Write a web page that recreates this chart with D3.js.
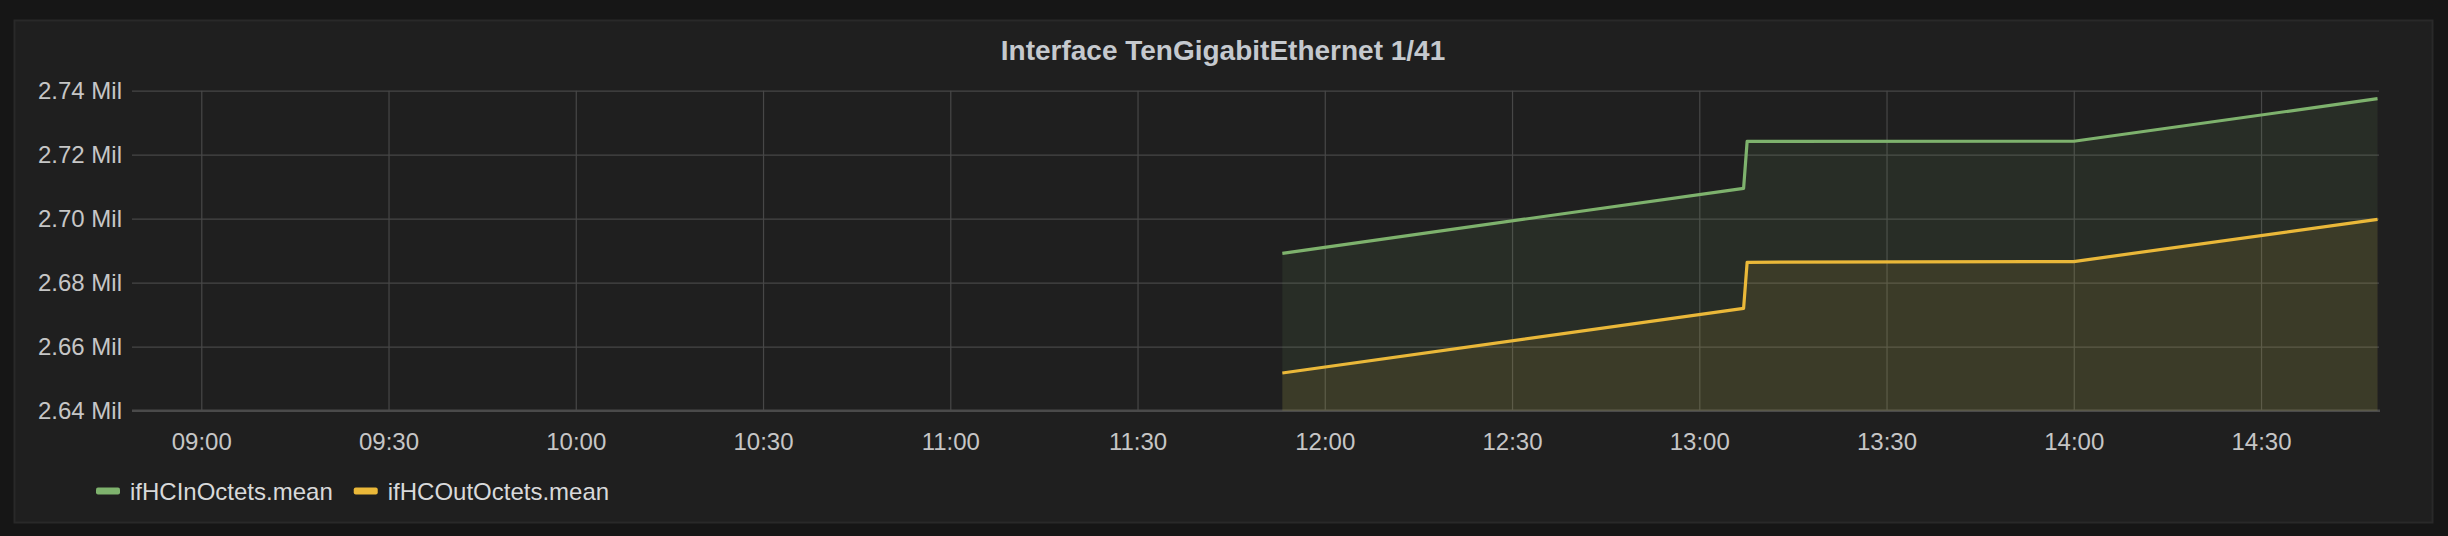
<!DOCTYPE html>
<html>
<head>
<meta charset="utf-8">
<script src="https://cdn.jsdelivr.net/npm/d3@7"></script>
<style>
  html, body { margin: 0; padding: 0; background: #161616; }
  svg { display: block; }
</style>
</head>
<body>
<svg id="chart" width="2448" height="536"></svg>
<script>
// ---- Data ----
const chartTitle = "Interface TenGigabitEthernet 1/41";
const seriesNames = ["ifHCInOctets.mean", "ifHCOutOctets.mean"];
const seriesColors = ["#7EB26D", "#EAB839"];
const sampleTimes = ["11:53:12", "13:07:06", "13:07:40", "14:00:00", "14:48:40"];
const inOctetsMean  = [2689190, 2709500, 2724190, 2724200, 2737500];
const outOctetsMean = [2651780, 2672000, 2686380, 2686600, 2699800];
const yTickValues = [2640000, 2660000, 2680000, 2700000, 2720000, 2740000];
const timeRange = ["08:48:54", "14:48:54"];
const xTickLabels = ["09:00","09:30","10:00","10:30","11:00","11:30","12:00","12:30","13:00","13:30","14:00","14:30"];

// ---- Helpers ----
const day = "2017-01-01T";
const parseT = s => new Date(day + s);

const svg = d3.select("#chart");
const W = 2448, H = 536;
const plot = { left: 132, right: 2379, top: 90.7, bottom: 410.7 };

// panel
svg.append("rect").attr("x", 0).attr("y", 0).attr("width", W).attr("height", H).attr("fill", "#161616");
svg.append("rect").attr("x", 14.5).attr("y", 20.5).attr("width", 2418).attr("height", 502)
  .attr("fill", "#1f1f1f").attr("stroke", "#292929").attr("stroke-width", 2);

// title
svg.append("text").attr("x", 1223).attr("y", 60)
  .attr("text-anchor", "middle")
  .attr("font-family", "'Liberation Sans', Arial, Helvetica, sans-serif")
  .attr("font-weight", "bold").attr("font-size", 28)
  .attr("fill", "#c5c9ce")
  .text(chartTitle);

// scales
const x = d3.scaleTime().domain(timeRange.map(parseT)).range([plot.left, plot.right]);
const y = d3.scaleLinear().domain([2640000, 2740000]).range([plot.bottom, plot.top]);

const font = "'Liberation Sans', Arial, Helvetica, sans-serif";

// grid - horizontal
const gy = svg.append("g").attr("class", "y-axis").attr("transform", `translate(${plot.left},0)`)
  .call(d3.axisLeft(y).tickValues(yTickValues)
    .tickSize(-(plot.right - plot.left)).tickPadding(10)
    .tickFormat(v => (v / 1e6).toFixed(2) + " Mil"));
gy.select(".domain").remove();
gy.selectAll(".tick line").attr("stroke", "#474747").attr("stroke-width", 1.2);
gy.selectAll(".tick text").attr("font-family", font).attr("font-size", 24)
  .attr("fill", "#c6c6c6").attr("x", -10).attr("dy", "0.33em");

// grid - vertical
const xTicks = xTickLabels.map(parseT);
const gx = svg.append("g").attr("class", "x-axis").attr("transform", `translate(0,${plot.bottom})`)
  .call(d3.axisBottom(x).tickValues(xTicks)
    .tickSize(-(plot.bottom - plot.top)).tickPadding(20)
    .tickFormat(d3.timeFormat("%H:%M")));
gx.select(".domain").remove();
gx.selectAll(".tick line").attr("stroke", "#474747").attr("stroke-width", 1.2);
gx.selectAll(".tick text").attr("font-family", font).attr("font-size", 24)
  .attr("fill", "#c6c6c6").attr("dy", "1.15em").attr("y", 12);

// bottom axis line
svg.append("line").attr("x1", plot.left).attr("x2", plot.right + 1)
  .attr("y1", plot.bottom).attr("y2", plot.bottom)
  .attr("stroke", "#4a4a4a").attr("stroke-width", 2.4);

// series
const series = [inOctetsMean, outOctetsMean].map((vals, i) => ({
  name: seriesNames[i], color: seriesColors[i],
  points: sampleTimes.map((t, j) => ({ t: parseT(t), v: vals[j] }))
}));

const area = d3.area().x(d => x(d.t)).y0(plot.bottom).y1(d => y(d.v));
const line = d3.line().x(d => x(d.t)).y(d => y(d.v));

series.forEach(s => {
  svg.append("path").attr("d", area(s.points)).attr("fill", s.color).attr("fill-opacity", 0.1);
});
series.forEach(s => {
  svg.append("path").attr("d", line(s.points)).attr("fill", "none")
    .attr("stroke", s.color).attr("stroke-width", 3.2).attr("stroke-linejoin", "round");
});

// legend
let lx = 96;
series.forEach((s, i) => {
  svg.append("rect").attr("x", lx).attr("y", 487.5).attr("width", 24).attr("height", 7)
    .attr("rx", 2).attr("fill", s.color);
  const t = svg.append("text").attr("x", lx + 34).attr("y", 500)
    .attr("font-family", font).attr("font-size", 24).attr("fill", "#d8d9da").text(s.name);
  lx = lx + 34 + t.node().getComputedTextLength() + 21;
});
</script>
</body>
</html>
